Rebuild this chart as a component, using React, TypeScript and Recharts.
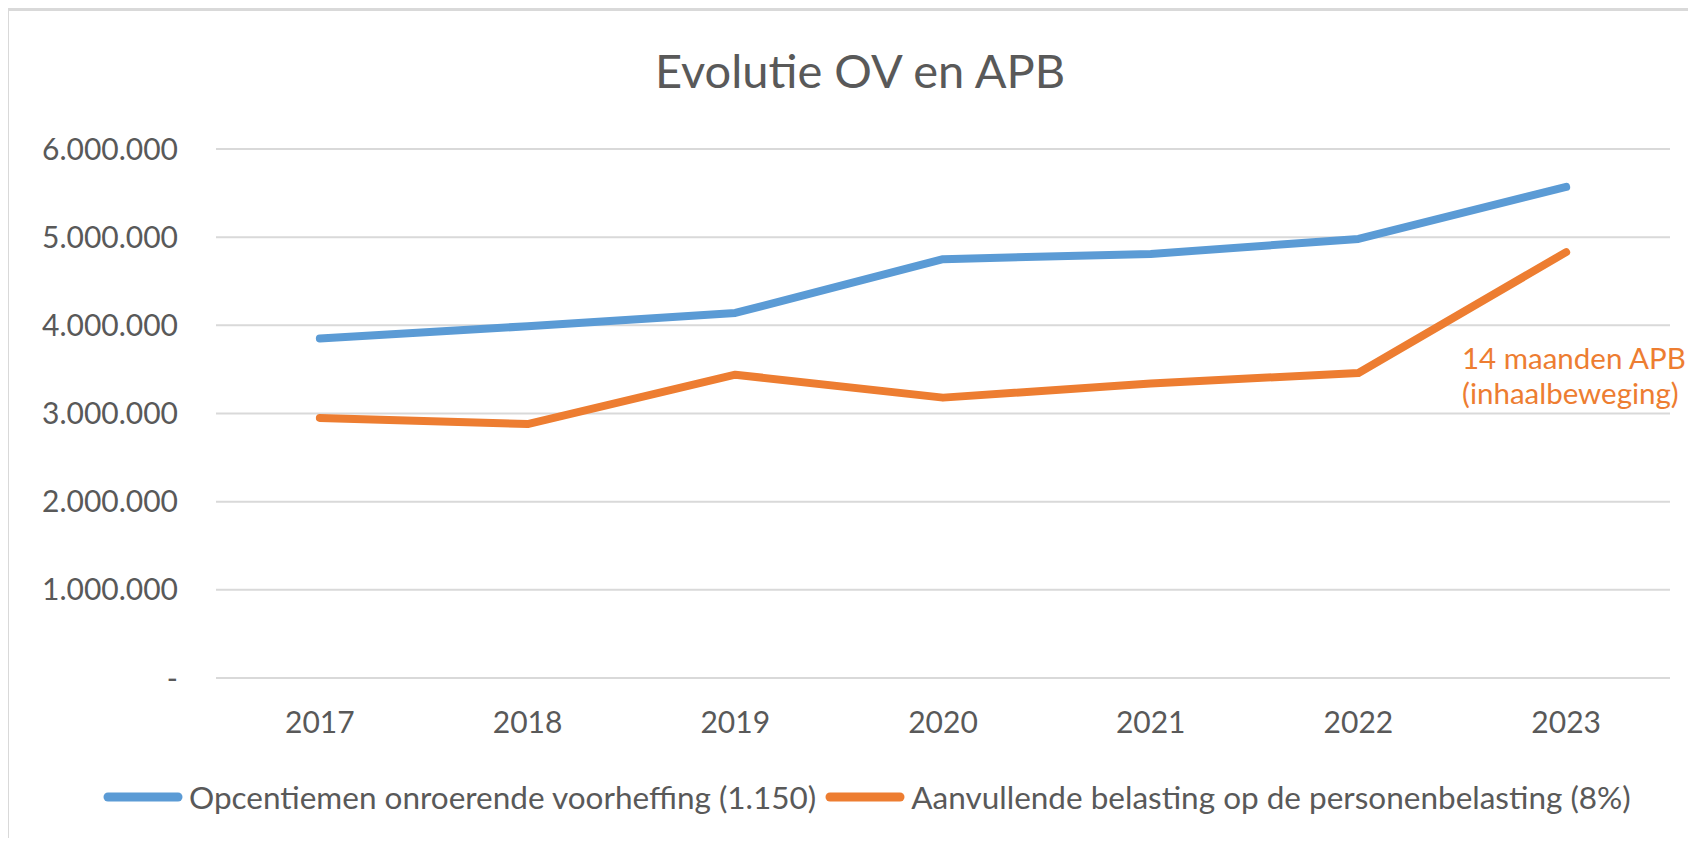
import * as React from "react"
import {
  LineChart,
  Line,
  XAxis,
  YAxis,
  CartesianGrid,
  Legend,
} from "recharts"

// jaren en bedragen
const years = ["2017", "2018", "2019", "2020", "2021", "2022", "2023"]
const opcentiemenOV = [3850000, 3990000, 4140000, 4750000, 4810000, 4980000, 5570000]
const aanvullendeAPB = [2950000, 2880000, 3440000, 3180000, 3340000, 3460000, 4830000]
const yTicks = [0, 1000000, 2000000, 3000000, 4000000, 5000000, 6000000]

const SERIES = [
  { key: "ov", name: "Opcentiemen onroerende voorheffing (1.150)", color: "#5B9BD5" },
  { key: "apb", name: "Aanvullende belasting op de personenbelasting (8%)", color: "#ED7D31" },
]

const TEXT_COLOR = "#595959"
const FONT = "Lato, 'Open Sans', sans-serif"

const data = years.map((year, i) => ({
  year,
  ov: opcentiemenOV[i],
  apb: aanvullendeAPB[i],
}))

// 6000000 -> "6.000.000", 0 -> "-"
function formatAmount(v: number) {
  if (v === 0) return "-"
  return String(v).replace(/\B(?=(\d{3})+(?!\d))/g, ".")
}

function LegendContent() {
  return (
    <div
      style={{
        display: "flex",
        alignItems: "center",
        height: "100%",
        paddingLeft: 103,
        paddingBottom: 10,
        boxSizing: "border-box",
        fontFamily: FONT,
        fontSize: 31.5,
        color: TEXT_COLOR,
      }}
    >
      {SERIES.map((s) => (
        <div key={s.key} style={{ display: "flex", alignItems: "center", marginRight: 9 }}>
          <svg width={80} height={12} style={{ marginRight: 6 }}>
            <line x1={5} y1={6} x2={75} y2={6} stroke={s.color} strokeWidth={9} strokeLinecap="round" />
          </svg>
          <span style={{ whiteSpace: "nowrap" }}>{s.name}</span>
        </div>
      ))}
    </div>
  )
}

export default function App() {
  return (
    <div
      style={{
        position: "relative",
        width: 1696,
        height: 846,
        overflow: "hidden",
        background: "#fff",
        margin: -8,
        fontFamily: FONT,
      }}
    >
      {/* kader van het grafiekgebied */}
      <div
        style={{
          position: "absolute",
          left: 6,
          top: 8,
          width: 2000,
          height: 2000,
          border: "3px solid #d9d9d9",
        }}
      />

      <div
        style={{
          position: "absolute",
          left: 860,
          top: 42,
          transform: "translateX(-50%)",
          fontSize: 47,
          lineHeight: "56px",
          color: TEXT_COLOR,
          whiteSpace: "nowrap",
        }}
      >
        Evolutie OV en APB
      </div>

      <LineChart
        width={1696}
        height={846}
        data={data}
        margin={{ top: 149, right: 26, bottom: 0, left: 0 }}
        style={{ position: "absolute", left: 0, top: 0 }}
      >
        <CartesianGrid vertical={false} stroke="#d9d9d9" strokeWidth={2} />
        <XAxis
          dataKey="year"
          scale="band"
          axisLine={false}
          tickLine={false}
          tickSize={0}
          tickMargin={34}
          height={80}
          tick={{ fill: TEXT_COLOR, fontSize: 30, fontFamily: FONT }}
        />
        <YAxis
          domain={[0, 6000000]}
          ticks={yTicks}
          tickFormatter={formatAmount}
          axisLine={false}
          tickLine={false}
          tickSize={0}
          tickMargin={38}
          width={216}
          tick={{ fill: TEXT_COLOR, fontSize: 30, fontFamily: FONT }}
        />
        <Legend
          verticalAlign="bottom"
          height={88}
          content={() => <LegendContent />}
          wrapperStyle={{ left: 0, width: 1696, height: 88 }}
        />
        {SERIES.map((s) => (
          <Line
            key={s.key}
            dataKey={s.key}
            name={s.name}
            type="linear"
            stroke={s.color}
            strokeWidth={8}
            strokeLinecap="round"
            strokeLinejoin="round"
            dot={false}
            activeDot={false}
            isAnimationActive={false}
          />
        ))}
      </LineChart>

      <div
        style={{
          position: "absolute",
          left: 1462,
          top: 340,
          fontSize: 29.5,
          lineHeight: "35px",
          color: "#ED7D31",
          whiteSpace: "nowrap",
        }}
      >
        14 maanden APB
        <br />
        (inhaalbeweging)
      </div>
    </div>
  )
}
